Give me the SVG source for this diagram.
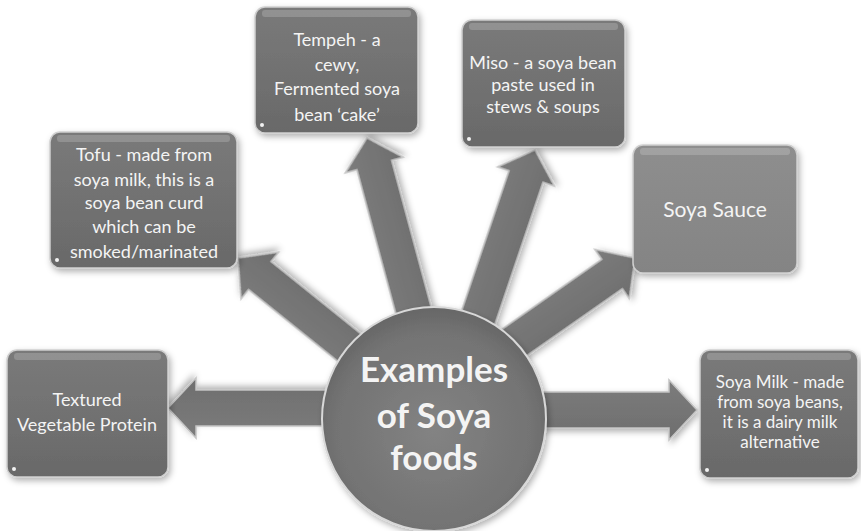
<svg xmlns="http://www.w3.org/2000/svg" width="861" height="531" viewBox="0 0 861 531">
<defs>
<linearGradient id="boxg" x1="0" y1="0" x2="0" y2="1">
<stop offset="0" stop-color="#7a7a7a"/>
<stop offset="1" stop-color="#696969"/>
</linearGradient>
<linearGradient id="boxl" x1="0" y1="0" x2="0" y2="1">
<stop offset="0" stop-color="#8e8e8e"/>
<stop offset="1" stop-color="#848484"/>
</linearGradient>
<linearGradient id="arrg" x1="0" y1="0" x2="0" y2="1">
<stop offset="0" stop-color="#7c7c7c"/>
<stop offset="1" stop-color="#6e6e6e"/>
</linearGradient>
<radialGradient id="circg" cx="0.5" cy="0.55" r="0.55">
<stop offset="0" stop-color="#838383"/>
<stop offset="0.8" stop-color="#737373"/>
<stop offset="1" stop-color="#666"/>
</radialGradient>
<filter id="sh" x="-10%" y="-10%" width="125%" height="125%">
<feDropShadow dx="2" dy="3" stdDeviation="3" flood-color="#000" flood-opacity="0.3"/>
</filter>
<polygon id="arrow" points="0,0 -28,-30 -28,-18 -270,-18 -270,18 -28,18 -28,30"/>
</defs>
<style>
.box{fill:url(#boxg);stroke:#cfcfcf;stroke-width:1.5;filter:url(#sh)}
.hl{fill:#ffffff;opacity:0.18}
.dot{fill:#f2f2f2}
.arr{fill:url(#arrg);stroke:#c4c4c4;stroke-width:1.5;filter:url(#sh)}
.t{font-family:Lato,"Open Sans","Liberation Sans",sans-serif;fill:#f4f4f4;text-anchor:middle}
.s{font-size:18px}
.c{font-size:35px;font-weight:bold}
</style>
<rect width="861" height="531" fill="#ffffff"/>
<g id="connectors">
<use href="#arrow" class="arr" transform="translate(168,408) rotate(180)"/>
<use href="#arrow" class="arr" transform="translate(238,258) rotate(218.8)"/>
<use href="#arrow" class="arr" transform="translate(367,138) rotate(254.9)"/>
<use href="#arrow" class="arr" transform="translate(535,150) rotate(-71.3)"/>
<use href="#arrow" class="arr" transform="translate(635,258) rotate(-35)"/>
<use href="#arrow" class="arr" transform="translate(697,410) rotate(0)"/>
</g>
<g id="center">
<circle cx="434" cy="419" r="112" fill="url(#circg)" stroke="#d8d8d8" stroke-width="2" filter="url(#sh)"/>
<text class="t c" x="434" y="382">Examples</text>
<text class="t c" x="434" y="428">of Soya</text>
<text class="t c" x="434" y="470">foods</text>
</g>
<g id="tvp">
<rect class="box" x="7" y="350" width="161" height="127" rx="10"/>
<rect class="hl" x="14" y="353" width="147" height="7" rx="3"/>
<circle class="dot" cx="14" cy="469" r="2"/>
<text class="t s" x="87" y="406">Textured</text>
<text class="t s" x="87" y="431">Vegetable Protein</text>
</g>
<g id="tofu">
<rect class="box" x="50" y="132" width="187" height="136" rx="10"/>
<rect class="hl" x="57" y="135" width="173" height="7" rx="3"/>
<circle class="dot" cx="57" cy="260" r="2"/>
<text class="t s" x="144" y="161">Tofu - made from</text>
<text class="t s" x="144" y="186">soya milk, this is a</text>
<text class="t s" x="144" y="209">soya bean curd</text>
<text class="t s" x="144" y="233">which can be</text>
<text class="t s" x="144" y="258">smoked/marinated</text>
</g>
<g id="tempeh">
<rect class="box" x="255" y="7" width="163" height="126" rx="10"/>
<rect class="hl" x="262" y="10" width="149" height="7" rx="3"/>
<circle class="dot" cx="262" cy="125" r="2"/>
<text class="t s" x="337" y="46">Tempeh - a</text>
<text class="t s" x="337" y="71">cewy,</text>
<text class="t s" x="337" y="95">Fermented soya</text>
<text class="t s" x="337" y="121">bean ‘cake’</text>
</g>
<g id="miso">
<rect class="box" x="462" y="20" width="163" height="127" rx="10"/>
<rect class="hl" x="469" y="23" width="149" height="7" rx="3"/>
<circle class="dot" cx="469" cy="139" r="2"/>
<text class="t s" x="543" y="69">Miso - a soya bean</text>
<text class="t s" x="543" y="91">paste used in</text>
<text class="t s" x="543" y="113">stews &amp; soups</text>
</g>
<g id="sauce">
<rect class="box" x="633" y="145" width="164" height="128" rx="10" style="fill:url(#boxl)"/>
<rect class="hl" x="640" y="148" width="150" height="7" rx="3"/>
<text class="t" x="715" y="217" font-size="21">Soya Sauce</text>
</g>
<g id="milk">
<rect class="box" x="700" y="350" width="158" height="128" rx="10"/>
<rect class="hl" x="707" y="353" width="144" height="7" rx="3"/>
<circle class="dot" cx="707" cy="470" r="2"/>
<text class="t" font-size="17" x="780" y="388">Soya Milk - made</text>
<text class="t" font-size="17" x="780" y="408">from soya beans,</text>
<text class="t" font-size="17" x="780" y="428">it is a dairy milk</text>
<text class="t" font-size="17" x="780" y="448">alternative</text>
</g>
</svg>
